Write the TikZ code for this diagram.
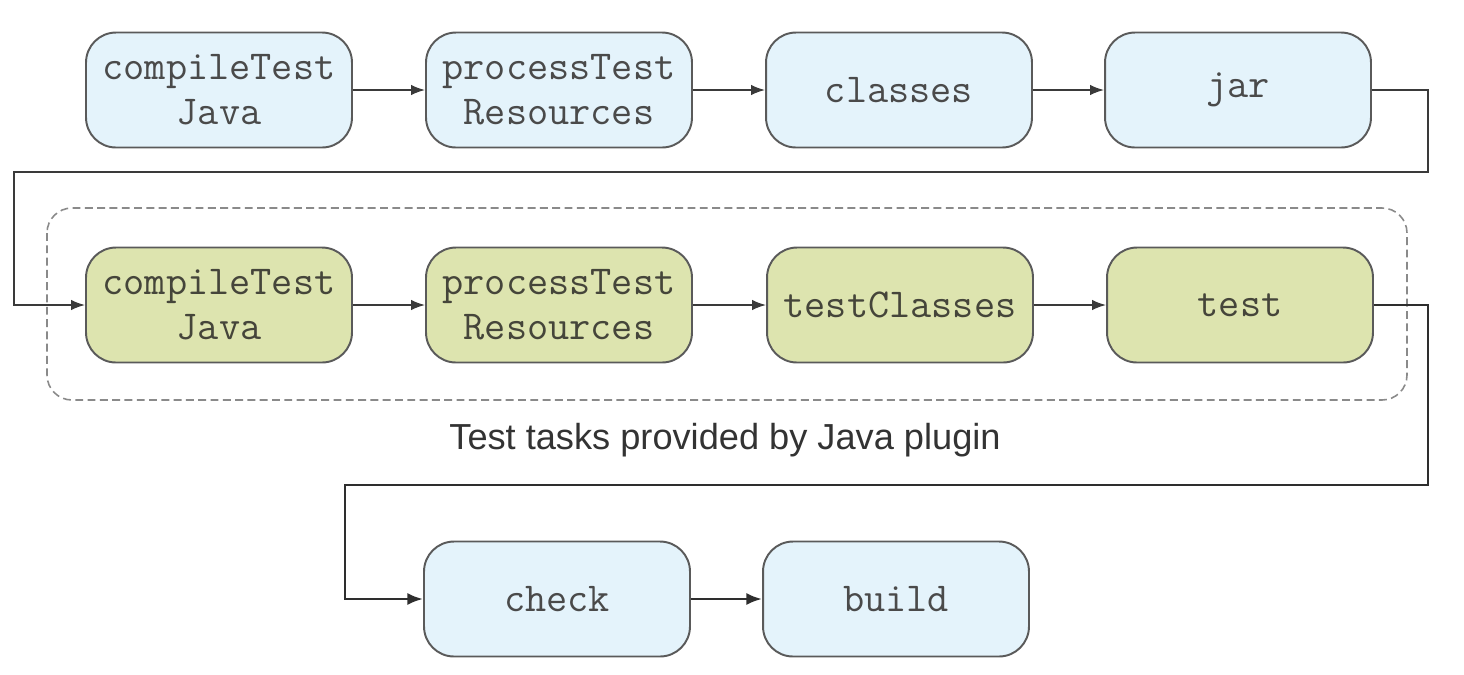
\documentclass[tikz,border=0pt]{standalone}
\usepackage{fontspec}
\setmainfont{Liberation Sans}
\usetikzlibrary{arrows.meta}
\definecolor{bluefill}{HTML}{E4F3FB}
\definecolor{greenfill}{HTML}{DDE4AF}
\definecolor{edgegrey}{HTML}{5A5A5A}
\definecolor{textgrey}{HTML}{4A4A4A}
\definecolor{textgreen}{HTML}{45453A}
\definecolor{linegrey}{HTML}{3A3A3A}
\definecolor{framegrey}{HTML}{8A8A8A}
\begin{document}
\begin{tikzpicture}[x=0.02cm,y=-0.02cm,
  task/.style={draw=edgegrey, line width=1.1pt, rounded corners=0.6cm,
    minimum width=5.32cm, minimum height=2.3cm, align=center, inner sep=0pt,
    font=\fontsize{23.4}{25.5}\selectfont\ttfamily},
  bluetask/.style={task, fill=bluefill, text=textgrey},
  greentask/.style={task, fill=greenfill, text=textgreen},
  conn/.style={draw=linegrey, line width=0.9pt, -{Latex[length=8pt,width=6pt]}},
  thickconn/.style={draw=linegrey!80!black, line width=1.6pt, -{Latex[length=9pt,width=7pt]}},
  testframe/.style={draw=framegrey, line width=0.9pt, dash pattern=on 4.5pt off 2.5pt, rounded corners=0.5cm}
]
\useasboundingbox (0,0) rectangle (1464,674);

% dashed frame
\draw[testframe] (47,208) rectangle (1407,400);

% row 1
\node[bluetask] (ctj1) at (219,90) {compileTest\\Java};
\node[bluetask] (ptr1) at (559,90) {processTest\\Resources};
\node[bluetask] (cls) at (899,90) {classes};
\node[bluetask] (jar) at (1238,90) {jar};

% row 2
\node[greentask] (ctj2) at (219,305) {compileTest\\Java};
\node[greentask] (ptr2) at (559,305) {processTest\\Resources};
\node[greentask] (tcls) at (900,305) {testClasses};
\node[greentask] (test) at (1240,305) {test};

% row 3
\node[bluetask] (check) at (557,599) {check};
\node[bluetask] (build) at (896,599) {build};

% label
\node[font=\fontsize{20.6}{24}\selectfont, text=black!80] (lbl) at (725,440) {Test tasks provided by Java plugin};

% connectors
\draw[conn] (ctj1) -- (ptr1);
\draw[conn] (ptr1) -- (cls);
\draw[conn] (cls) -- (jar);

\coordinate (c1) at (1428,172);
\coordinate (c2) at (14,172);
\draw[conn] (jar.east) -| (c1) -- (c2) |- (ctj2.west);

\draw[conn] (ctj2) -- (ptr2);
\draw[conn] (ptr2) -- (tcls);
\draw[conn] (tcls) -- (test);

\coordinate (c3) at (1428,485);
\coordinate (c4) at (345,485);
\draw[thickconn] (test.east) -| (c3) -- (c4) |- (check.west);

\draw[thickconn] (check) -- (build);
\end{tikzpicture}
\end{document}
